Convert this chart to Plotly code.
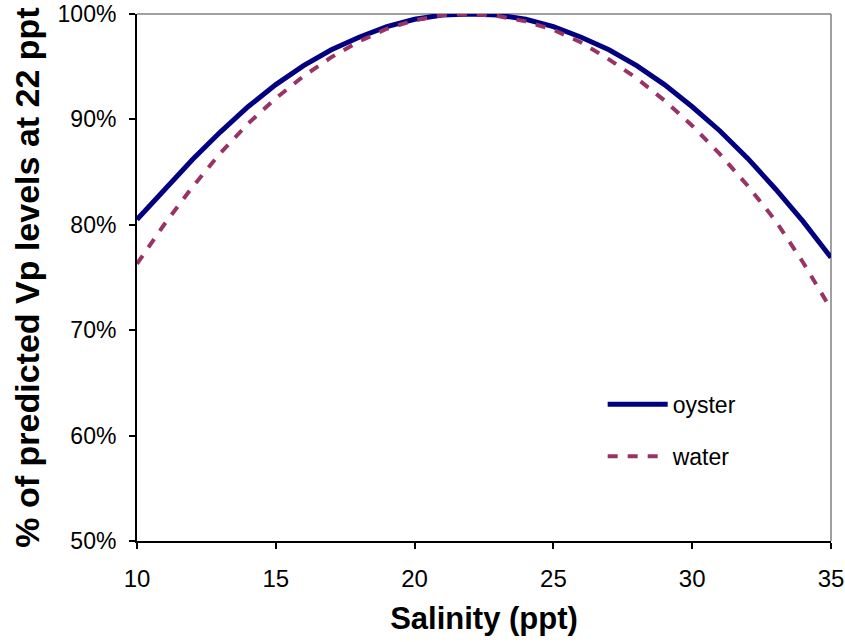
import plotly.graph_objects as go

# Salinity (ppt) and modelled Vp level as a percent of the level predicted at 22 ppt
salinity = [10, 11, 12, 13, 14, 15, 16, 17, 18, 19, 20, 21, 22,
            23, 24, 25, 26, 27, 28, 29, 30, 31, 32, 33, 34, 35]
oyster_pct = [80.5, 83.4, 86.2, 88.8, 91.2, 93.3, 95.1, 96.6, 97.8, 98.8, 99.5, 99.9, 100.0,
              99.9, 99.5, 98.8, 97.8, 96.6, 95.1, 93.3, 91.2, 88.9, 86.3, 83.4, 80.3, 76.9]
water_pct = [76.3, 80.1, 83.6, 86.8, 89.6, 92.0, 94.1, 95.9, 97.4, 98.6, 99.4, 99.9, 100.0,
             99.8, 99.3, 98.5, 97.3, 95.7, 93.9, 91.8, 89.4, 86.7, 83.7, 80.4, 76.4, 72.0]

x_ticks = [10, 15, 20, 25, 30, 35]
y_ticks = [0.5, 0.6, 0.7, 0.8, 0.9, 1.0]

FONT = "Arial, Liberation Sans, sans-serif"

fig = go.Figure()
fig.add_trace(go.Scatter(
    x=salinity, y=[v / 100 for v in oyster_pct], name="oyster", mode="lines",
    line=dict(color="#000080", width=5), legendgroup="oyster",
))
fig.add_trace(go.Scatter(
    x=salinity, y=[v / 100 for v in water_pct], name="water", mode="lines",
    line=dict(color="#993366", width=4, dash="10px,10px"), legendgroup="water",
))

fig.update_layout(
    width=845, height=642,
    margin=dict(l=137, r=14, t=14, b=101, autoexpand=False),
    paper_bgcolor="white", plot_bgcolor="white",
    font=dict(family=FONT, color="black"),
    showlegend=True,
    legend=dict(
        x=0.671, y=0.30, xanchor="left", yanchor="top",
        font=dict(size=23, family=FONT, color="black"),
        bgcolor="rgba(0,0,0,0)", tracegroupgap=19, itemwidth=60,
    ),
    xaxis=dict(
        range=[10, 35], tickvals=x_ticks, ticks="outside", ticklen=6, tickwidth=2,
        tickcolor="black", showline=True, linecolor="black", linewidth=2,
        showgrid=False, zeroline=False, tickfont=dict(size=24, family=FONT),
        ticklabelstandoff=9,
        title=dict(text="<b>Salinity (ppt)</b>", font=dict(size=31, family=FONT), standoff=17),
    ),
    yaxis=dict(
        range=[0.5, 1.0], tickvals=y_ticks, tickformat=".0%", ticks="outside",
        ticklen=6, tickwidth=2, tickcolor="black", showline=True, linecolor="black",
        linewidth=2, showgrid=False, zeroline=False, tickfont=dict(size=23, family=FONT),
        ticklabelstandoff=8,
        title=dict(text="<b>% of predicted Vp levels at 22 ppt</b>",
                   font=dict(size=34, family=FONT), standoff=8),
    ),
    shapes=[
        dict(type="line", xref="paper", yref="paper", x0=0, x1=1, y0=1, y1=1,
             line=dict(color="#808080", width=1.5), layer="below"),
        dict(type="line", xref="paper", yref="paper", x0=1, x1=1, y0=0, y1=1,
             line=dict(color="#808080", width=1.5), layer="below"),
    ],
)

fig.write_html("out.html")
